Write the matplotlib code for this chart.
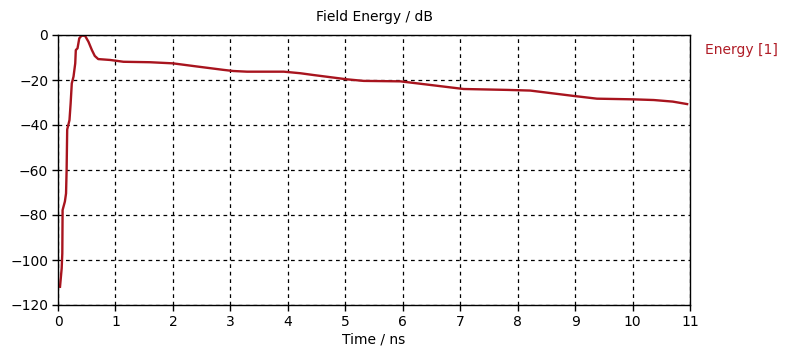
import numpy as np
import matplotlib
matplotlib.use('Agg')
import matplotlib.pyplot as plt

# time (ns) and field energy (dB)
time_ns = [0.035, 0.064, 0.075, 0.08, 0.12, 0.14, 0.15, 0.16, 0.20, 0.22,
           0.24, 0.27, 0.30, 0.31, 0.34, 0.37, 0.41, 0.47, 0.53, 0.59,
           0.64, 0.70, 0.91, 1.14, 1.6, 2.0, 2.42, 2.88, 3.05, 3.29,
           3.93, 4.22, 4.45, 5.03, 5.32, 5.96, 6.48, 7.06, 7.82, 8.22,
           8.98, 9.38, 10.02, 10.37, 10.7, 10.95]
energy_db = [-111.9, -103.7, -97.0, -77.8, -74.0, -70.4, -60.0, -42.0, -37.8, -30.4,
             -21.5, -18.5, -12.6, -6.7, -5.9, -1.5, -0.3, -0.3, -3.0, -6.7,
             -9.3, -10.7, -11.1, -11.9, -12.1, -12.6, -14.0, -15.5, -16.0, -16.3,
             -16.3, -17.0, -17.8, -19.7, -20.4, -20.6, -22.2, -24.0, -24.4, -24.7,
             -27.1, -28.3, -28.6, -28.9, -29.6, -30.7]

xticks = list(range(0, 12))
yticks = list(range(-120, 1, 20))

plt.rcParams['font.family'] = ['DejaVu Sans']

fig = plt.figure(figsize=(8.05, 3.57), dpi=100)
ax = fig.add_axes([58 / 805, 52 / 357, 632 / 805, 270 / 357])

ax.plot(time_ns, energy_db, color='#a8141e', lw=1.7, solid_joinstyle='round')

ax.set_xlim(0, 11)
ax.set_ylim(-120, 0)
ax.set_xticks(xticks)
ax.set_yticks(yticks)
ax.tick_params(direction='out', length=4, width=1, labelsize=10, colors='black', pad=3)
ax.grid(True, color='black', linestyle=(0, (3, 3)), linewidth=0.9)
for s in ax.spines.values():
    s.set_linewidth(1.0)

ax.set_title('Field Energy / dB', fontsize=10, pad=10)
ax.set_xlabel('Time / ns', fontsize=10, labelpad=3)
fig.text(705 / 805, 1 - 50 / 357, 'Energy [1]', color='#b01c26', fontsize=10,
         ha='left', va='center')

fig.savefig('out.png', dpi=100)
